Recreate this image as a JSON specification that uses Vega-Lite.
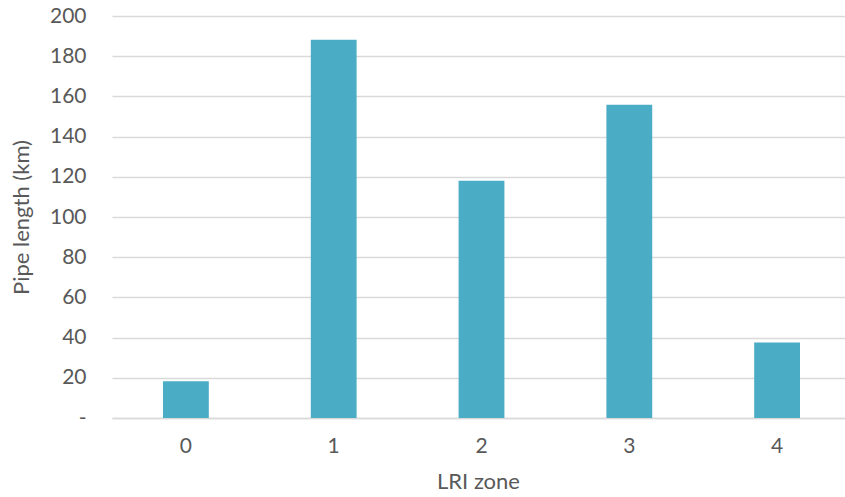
{
  "$schema": "https://vega.github.io/schema/vega-lite/v6.json",
  "width": 733,
  "height": 402,
  "autosize": {"type": "none"},
  "padding": {"left": 112, "top": 16, "right": 0, "bottom": 79},
  "background": "white",
  "config": {
    "view": {"stroke": null},
    "font": "Lato",
    "axis": {
      "labelColor": "#595959",
      "titleColor": "#595959",
      "labelFontSize": 21,
      "titleFontSize": 22,
      "titleFontWeight": "normal",
      "labelFont": "Lato",
      "titleFont": "Lato"
    }
  },
  "data": {
    "values": [
      {"zone": "0", "length": 18.3},
      {"zone": "1", "length": 188.2},
      {"zone": "2", "length": 118},
      {"zone": "3", "length": 155.8},
      {"zone": "4", "length": 37.6}
    ]
  },
  "mark": {"type": "bar", "color": "#4bacc6"},
  "encoding": {
    "x": {
      "field": "zone",
      "type": "nominal",
      "sort": null,
      "title": "LRI zone",
      "scale": {"range": [0, 739], "paddingInner": 0.69, "paddingOuter": 0.345},
      "axis": {
        "labelAngle": 0,
        "domain": true,
        "domainColor": "#d9d9d9",
        "domainWidth": 1.5,
        "ticks": false,
        "labelPadding": 17,
        "titlePadding": 15,
        "titleX": 366
      }
    },
    "y": {
      "field": "length",
      "type": "quantitative",
      "title": "Pipe length (km)",
      "scale": {"domain": [0, 200]},
      "axis": {
        "values": [0, 20, 40, 60, 80, 100, 120, 140, 160, 180, 200],
        "labelExpr": "datum.value == 0 ? '-' : datum.label",
        "domain": false,
        "ticks": false,
        "grid": true,
        "gridColor": "#d9d9d9",
        "gridWidth": 1.5,
        "labelPadding": 26,
        "titlePadding": 16
      }
    }
  }
}
